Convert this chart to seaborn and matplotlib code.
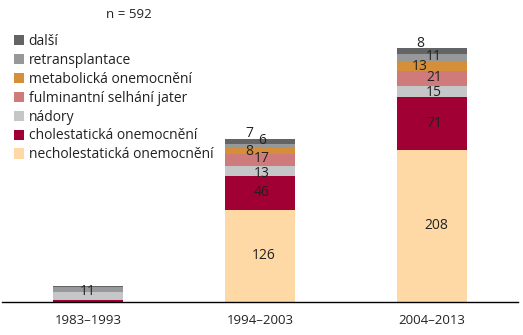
import matplotlib
matplotlib.use("Agg")
import matplotlib.pyplot as plt
import seaborn as sns
import numpy as np

periods = ["1983–1993", "1994–2003", "2004–2013"]
series_names = ["necholestatická onemocnění", "cholestatická onemocnění", "nádory",
                "fulminantní selhání jater", "metabolická onemocnění", "retransplantace", "další"]
necholest = [0, 126, 208]
cholest = [3, 46, 71]
nadory = [11, 13, 15]
fulminant = [0, 17, 21]
metabolic = [0, 8, 13]
retrans = [6, 6, 11]
dalsi = [2, 7, 8]
show_label = [[False, True, True], [False, True, True], [True, True, True],
              [False, True, True], [False, True, True], [False, True, True], [False, True, True]]
n_text = "n = 592"

colors = ["#fed9a6", "#a00033", "#c5c6c8", "#cf7b7b", "#d68f39", "#97989a", "#636466"]
# label offsets (pixels) per series per bar
dx = [[0, 4, 4], [0, 2, 2], [0, 2, 2], [0, 2, 2], [0, -11, -12], [0, 2, 2], [0, -11, -12]]
dy = [[0, 0, 0], [0, 0, 0], [4, -2, -1], [0, 2, 1], [0, 0, 0], [0, 5, 1], [0, 8, 7]]

sns.set_theme(style="white")
plt.rcParams["font.family"] = ["Open Sans", "DejaVu Sans"]
txt = "#222222"

fig = plt.figure(figsize=(5.23, 3.35), dpi=100)
ax = fig.add_axes([2 / 523, 33 / 335, 516 / 523, 302 / 335])

data = [necholest, cholest, nadory, fulminant, metabolic, retrans, dalsi]
bottom = np.zeros(3)
for name, vals, col in zip(series_names, data, colors):
    sns.barplot(x=periods, y=vals, bottom=bottom, color=col, width=0.41,
                ax=ax, label=name, linewidth=0, saturation=1)
    bottom = bottom + np.array(vals)

bottom = np.zeros(3)
for si, vals in enumerate(data):
    for i, v in enumerate(vals):
        if v > 0 and show_label[si][i]:
            ax.annotate(str(v), (i, bottom[i] + v / 2), xytext=(dx[si][i], dy[si][i]),
                        textcoords="offset pixels", ha="center", va="center",
                        fontsize=10, color=txt)
    bottom = bottom + np.array(vals)

ax.set_xlim(-0.5, 2.5)
ax.set_ylim(0, 412)
ax.set_yticks([])
ax.set_xticks([0, 1, 2])
ax.set_xticklabels(periods, fontsize=9.5, color=txt)
ax.tick_params(axis="x", which="major", length=0, pad=9)
ax.set_xticks([-0.5, 0.5, 1.5, 2.5], minor=True)
ax.tick_params(axis="x", which="minor", length=4, width=1, color="black", direction="out")
for s in ["top", "left", "right"]:
    ax.spines[s].set_visible(False)
ax.spines["bottom"].set_color("black")
ax.spines["bottom"].set_linewidth(1)
ax.set_xlabel("")
ax.set_ylabel("")

fig.text(129 / 523, 1 - 15 / 335, n_text, ha="center", va="center", fontsize=9.5, color=txt)

handles, labels = ax.get_legend_handles_labels()
leg = ax.legend(handles[::-1], labels[::-1], loc="upper left",
                bbox_to_anchor=(14 / 523, 1 - 34 / 335), bbox_transform=fig.transFigure,
                frameon=False, fontsize=10, handlelength=0.75, handleheight=0.75,
                handletextpad=0.3, labelspacing=0.28, borderaxespad=0, borderpad=0)
for t in leg.get_texts():
    t.set_color(txt)

fig.savefig("out.png", dpi=100)
